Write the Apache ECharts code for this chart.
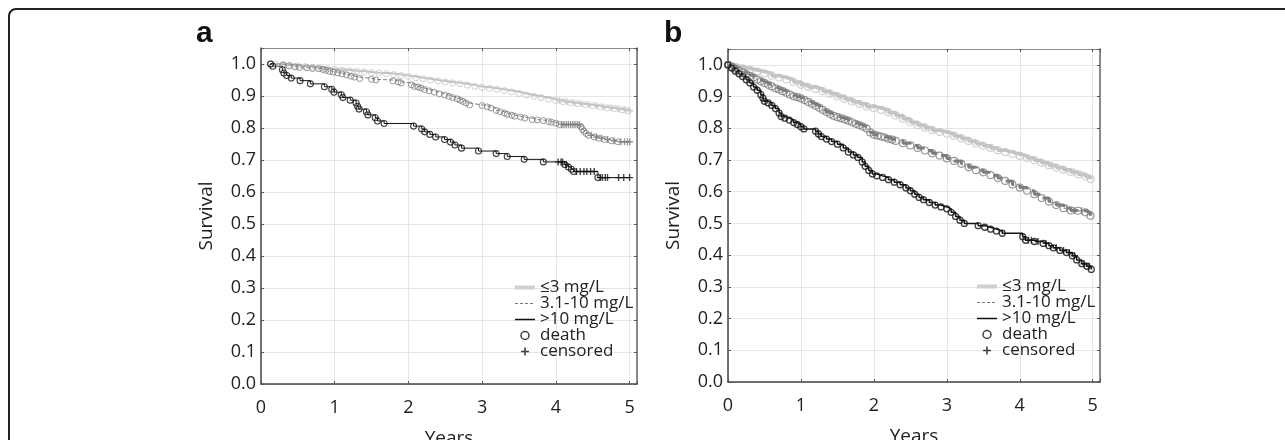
<!DOCTYPE html>
<html><head><meta charset="utf-8">
<script src="https://cdn.jsdelivr.net/npm/echarts@6/dist/echarts.min.js"></script>
<style>html,body{margin:0;padding:0;background:#fff}#c{width:1285px;height:440px}</style>
</head><body><div id="c"></div>
<script>
// ---------- data: panel a ----------
const groupNames = ['≤3 mg/L', '3.1-10 mg/L', '>10 mg/L'];
const markerNames = ['death', 'censored'];
const xTicks = [0, 1, 2, 3, 4, 5];
const yTicks = [0.0, 0.1, 0.2, 0.3, 0.4, 0.5, 0.6, 0.7, 0.8, 0.9, 1.0];

const aLowDeath = [[0.13,1.0],[0.20,0.999],[0.30,0.998],[0.40,0.996],[0.50,0.994],[0.60,0.992],[0.70,0.990],[0.80,0.988],[0.90,0.985],[1.00,0.983],[1.10,0.981],[1.20,0.979],[1.30,0.977],[1.40,0.975],[1.50,0.973],[1.60,0.972],[1.70,0.970],[1.80,0.967],[1.90,0.964],[2.00,0.961],[2.10,0.957],[2.20,0.954],[2.30,0.950],[2.40,0.947],[2.50,0.944],[2.60,0.941],[2.70,0.938],[2.80,0.934],[2.90,0.930],[3.00,0.927],[3.10,0.924],[3.20,0.921],[3.30,0.917],[3.40,0.913],[3.50,0.908],[3.60,0.903],[3.70,0.899],[3.80,0.895],[3.90,0.890],[4.00,0.886],[4.10,0.882],[4.20,0.879],[4.30,0.876],[4.40,0.873],[4.50,0.870],[4.60,0.866],[4.70,0.863],[4.80,0.860],[4.90,0.857],[4.98,0.854]];
const aLowCens = [[4.05,0.886],[4.15,0.882],[4.25,0.879],[4.35,0.876],[4.45,0.873],[4.55,0.870],[4.65,0.866],[4.75,0.863],[4.85,0.860],[4.94,0.857],[5.00,0.854]];

const aMidDeath = [[0.13,1.0],[0.30,0.997],[0.38,0.994],[0.46,0.991],[0.52,0.989],[0.62,0.988],[0.70,0.986],[0.78,0.985],[0.84,0.983],[0.88,0.980],[0.93,0.977],[0.98,0.975],[1.04,0.972],[1.10,0.969],[1.16,0.966],[1.22,0.962],[1.27,0.959],[1.34,0.955],[1.50,0.952],[1.56,0.950],[1.79,0.947],[1.86,0.944],[1.90,0.941],[2.04,0.935],[2.08,0.930],[2.13,0.928],[2.17,0.925],[2.22,0.920],[2.28,0.916],[2.35,0.912],[2.42,0.907],[2.49,0.903],[2.55,0.899],[2.60,0.895],[2.66,0.891],[2.70,0.887],[2.74,0.883],[2.78,0.878],[2.83,0.872],[3.00,0.870],[3.07,0.866],[3.12,0.862],[3.19,0.855],[3.24,0.851],[3.30,0.847],[3.34,0.843],[3.40,0.840],[3.44,0.837],[3.52,0.834],[3.58,0.831],[3.68,0.826],[3.75,0.825],[3.83,0.823],[3.90,0.820],[3.94,0.818],[4.00,0.815],[4.05,0.811],[4.34,0.804],[4.36,0.796],[4.38,0.790],[4.41,0.783],[4.44,0.777],[4.52,0.772],[4.58,0.768],[4.66,0.764],[4.75,0.760],[4.84,0.757]];
const aMidCens = [[4.08,0.811],[4.11,0.811],[4.14,0.811],[4.17,0.811],[4.20,0.811],[4.23,0.811],[4.26,0.811],[4.29,0.811],[4.32,0.811],[4.48,0.777],[4.55,0.772],[4.62,0.768],[4.70,0.764],[4.79,0.760],[4.88,0.757],[4.93,0.757],[4.97,0.757],[5.00,0.757]];

const aHighDeath = [[0.13,1.0],[0.16,0.993],[0.29,0.982],[0.31,0.972],[0.35,0.964],[0.41,0.956],[0.53,0.948],[0.67,0.938],[0.86,0.929],[0.96,0.921],[0.99,0.912],[1.09,0.904],[1.11,0.895],[1.21,0.887],[1.29,0.878],[1.31,0.868],[1.33,0.859],[1.43,0.851],[1.45,0.841],[1.55,0.832],[1.58,0.822],[1.67,0.814],[2.07,0.806],[2.18,0.797],[2.22,0.788],[2.29,0.780],[2.37,0.772],[2.49,0.764],[2.57,0.756],[2.63,0.747],[2.72,0.737],[2.95,0.728],[3.19,0.720],[3.34,0.711],[3.57,0.702],[3.83,0.694],[4.12,0.686],[4.17,0.678],[4.21,0.671],[4.24,0.664],[4.57,0.645]];
const aHighCens = [[4.03,0.694],[4.07,0.694],[4.09,0.694],[4.14,0.686],[4.28,0.664],[4.33,0.664],[4.38,0.664],[4.42,0.664],[4.47,0.664],[4.52,0.664],[4.60,0.645],[4.63,0.645],[4.67,0.645],[4.70,0.645],[4.85,0.645],[4.92,0.645],[5.00,0.645]];

// ---------- data: panel b ----------
const bLowDeath = [[0,1.0],[0.05,0.997],[0.10,0.994],[0.20,0.989],[0.30,0.984],[0.40,0.979],[0.50,0.973],[0.60,0.966],[0.70,0.960],[0.80,0.954],[0.90,0.946],[1.00,0.937],[1.10,0.930],[1.20,0.924],[1.30,0.917],[1.40,0.909],[1.50,0.901],[1.60,0.892],[1.70,0.884],[1.80,0.877],[1.90,0.869],[2.00,0.864],[2.10,0.858],[2.20,0.850],[2.30,0.840],[2.40,0.830],[2.50,0.819],[2.60,0.810],[2.70,0.802],[2.80,0.794],[2.90,0.788],[3.00,0.783],[3.10,0.776],[3.20,0.768],[3.30,0.760],[3.40,0.752],[3.50,0.745],[3.60,0.738],[3.70,0.731],[3.80,0.725],[3.90,0.719],[4.00,0.713],[4.10,0.706],[4.20,0.699],[4.30,0.691],[4.40,0.683],[4.50,0.676],[4.60,0.669],[4.70,0.662],[4.80,0.655],[4.90,0.648],[4.97,0.640]];
const bLowCens = [[4.45,0.683],[4.75,0.662],[4.85,0.655]];

const bMidDeath = [[0,1.0],[0.05,0.994],[0.10,0.988],[0.15,0.982],[0.20,0.976],[0.25,0.971],[0.30,0.965],[0.35,0.960],[0.40,0.954],[0.45,0.948],[0.50,0.943],[0.55,0.937],[0.60,0.932],[0.65,0.926],[0.70,0.922],[0.75,0.917],[0.80,0.912],[0.85,0.906],[0.90,0.901],[0.95,0.898],[1.00,0.894],[1.05,0.889],[1.10,0.883],[1.15,0.877],[1.20,0.871],[1.25,0.865],[1.30,0.858],[1.35,0.851],[1.40,0.845],[1.45,0.839],[1.50,0.835],[1.55,0.832],[1.60,0.828],[1.65,0.824],[1.70,0.819],[1.75,0.814],[1.80,0.810],[1.85,0.805],[1.90,0.799],[1.95,0.787],[2.00,0.780],[2.05,0.777],[2.10,0.774],[2.15,0.771],[2.20,0.767],[2.25,0.764],[2.30,0.760],[2.40,0.753],[2.50,0.746],[2.60,0.738],[2.70,0.730],[2.80,0.721],[2.90,0.714],[3.00,0.705],[3.10,0.697],[3.20,0.688],[3.30,0.677],[3.40,0.668],[3.50,0.661],[3.60,0.652],[3.70,0.643],[3.80,0.634],[3.90,0.623],[4.00,0.613],[4.10,0.603],[4.20,0.592],[4.30,0.580],[4.40,0.569],[4.50,0.558],[4.60,0.548],[4.70,0.541],[4.80,0.540],[4.90,0.535],[4.97,0.524]];
const bMidCens = [[4.65,0.548],[4.75,0.541],[4.85,0.540]];

const bHighDeath = [[0,1.0],[0.05,0.990],[0.10,0.980],[0.15,0.972],[0.20,0.963],[0.25,0.953],[0.30,0.943],[0.35,0.930],[0.40,0.920],[0.45,0.906],[0.48,0.895],[0.50,0.885],[0.55,0.880],[0.60,0.872],[0.65,0.862],[0.70,0.848],[0.73,0.837],[0.78,0.832],[0.84,0.826],[0.90,0.818],[0.95,0.812],[1.00,0.805],[1.04,0.798],[1.20,0.791],[1.24,0.782],[1.28,0.774],[1.35,0.766],[1.42,0.758],[1.50,0.750],[1.58,0.738],[1.65,0.725],[1.72,0.716],[1.78,0.708],[1.84,0.694],[1.88,0.680],[1.93,0.667],[1.98,0.656],[2.04,0.650],[2.12,0.645],[2.20,0.638],[2.28,0.630],[2.36,0.622],[2.44,0.612],[2.50,0.603],[2.56,0.592],[2.62,0.582],[2.68,0.575],[2.76,0.566],[2.84,0.558],[2.92,0.552],[3.00,0.546],[3.06,0.535],[3.12,0.522],[3.18,0.510],[3.24,0.500],[3.43,0.493],[3.52,0.488],[3.60,0.482],[3.68,0.476],[3.76,0.469],[4.04,0.458],[4.08,0.447],[4.20,0.443],[4.32,0.437],[4.40,0.430],[4.46,0.423],[4.55,0.415],[4.64,0.408],[4.72,0.398],[4.78,0.385],[4.85,0.373],[4.92,0.365],[4.98,0.355]];
const bHighCens = [[4.12,0.447],[4.16,0.447],[4.25,0.443],[4.36,0.437],[4.50,0.423],[4.60,0.415],[4.68,0.408],[4.75,0.398],[4.88,0.373],[4.95,0.365]];

// ---------- styling ----------
const COL = ['#c4c4c4', '#7d7d7d', '#141414'];
const LTYPE = ['solid', 'dashed', 'solid'];
const PLUS = 'path://M4,0H6V4H10V6H6V10H4V6H0V4H4Z';
const FONT = 'Open Sans';

function groupSeries(gi, k, deaths, cens, lw, sym, bw) {
  const curve = deaths.concat(cens).sort((p, q) => p[0] - q[0]);
  return [
    { type: 'line', name: groupNames[k], xAxisIndex: gi, yAxisIndex: gi, data: curve, step: 'end',
      symbol: 'none', showSymbol: false, silent: true, animation: false, z: 2 + k,
      lineStyle: { color: COL[k], type: LTYPE[k], width: lw }, itemStyle: { color: COL[k] } },
    { type: 'scatter', name: 'death', xAxisIndex: gi, yAxisIndex: gi, data: deaths, symbol: 'circle',
      symbolSize: sym, silent: true, animation: false, z: 5 + k,
      itemStyle: { color: 'rgba(255,255,255,0)', borderColor: COL[k], borderWidth: bw } },
    { type: 'scatter', name: 'censored', xAxisIndex: gi, yAxisIndex: gi, data: cens, symbol: PLUS,
      symbolSize: 7, silent: true, animation: false, z: 5 + k, itemStyle: { color: COL[k] } }
  ];
}

const series = [].concat(
  groupSeries(0, 0, aLowDeath, aLowCens, 2, 6, 1),
  groupSeries(0, 1, aMidDeath, aMidCens, 1, 6, 1),
  groupSeries(0, 2, aHighDeath, aHighCens, 1, 6, 1.1),
  groupSeries(1, 0, bLowDeath, bLowCens, 3.5, 7, 1.2),
  groupSeries(1, 1, bMidDeath, bMidCens, 3, 7, 1.2),
  groupSeries(1, 2, bHighDeath, bHighCens, 1.5, 6, 1.3)
);

const hidden = { color: 'rgba(0,0,0,0)', borderColor: 'rgba(0,0,0,0)', borderWidth: 0 };
function legendFor(left, top) {
  return {
    left: left, top: top, orient: 'vertical', itemWidth: 20, itemHeight: 8, itemGap: -1, padding: 0,
    selectedMode: false,
    textStyle: { fontSize: 17, fontFamily: FONT, color: '#222', lineHeight: 14 },
    data: [
      { name: groupNames[0], lineStyle: { width: 4, color: '#d0d0d0', type: 'solid' }, itemStyle: hidden },
      { name: groupNames[1], lineStyle: { width: 1, type: [3, 2], color: '#777' }, itemStyle: hidden },
      { name: groupNames[2], lineStyle: { width: 1.5, color: '#111', type: 'solid' }, itemStyle: hidden },
      { name: markerNames[0], icon: 'circle', itemStyle: { color: 'rgba(0,0,0,0)', borderColor: '#111', borderWidth: 1.5 } },
      { name: markerNames[1], icon: PLUS, itemStyle: { color: '#111' } }
    ]
  };
}

const lblFmtX = v => (xTicks.indexOf(Math.round(v * 1000) / 1000) >= 0 ? String(v) : '');
const lblFmtY = v => {
  const r = Math.round(v * 1000) / 1000;
  return yTicks.some(t => Math.abs(t - r) < 1e-6) ? r.toFixed(1) : '';
};

function xAx(gi, top) {
  return {
    type: 'value', gridIndex: gi, min: 0, max: 5.1, interval: 1, position: top ? 'top' : 'bottom',
    axisLine: { show: true, onZero: false, lineStyle: { color: top ? '#8a8a8a' : '#444', width: top ? 1 : 1.5 } },
    axisTick: { show: true, inside: true, length: 3, lineStyle: { color: '#555' } },
    splitLine: { show: !top, lineStyle: { color: '#e6e6e6', width: 1 } },
    axisLabel: { show: !top, fontSize: 18, fontFamily: FONT, color: '#222', margin: 15, formatter: lblFmtX },
    name: top ? '' : 'Years', nameLocation: 'middle', nameGap: 45,
    nameTextStyle: { fontSize: 19, fontFamily: FONT, color: '#222' }
  };
}
function yAx(gi, right) {
  return {
    type: 'value', gridIndex: gi, min: 0, max: 1.05, interval: 0.1, position: right ? 'right' : 'left',
    axisLine: { show: true, onZero: false, lineStyle: { color: right ? '#666' : '#444', width: 1.5 } },
    axisTick: { show: true, inside: true, length: 3, lineStyle: { color: '#555' } },
    splitLine: { show: !right, lineStyle: { color: '#e6e6e6', width: 1 } },
    axisLabel: { show: !right, fontSize: 18, fontFamily: FONT, color: '#222', margin: 5, formatter: lblFmtY },
    name: right ? '' : 'Survival', nameLocation: 'middle', nameGap: 45,
    nameTextStyle: { fontSize: 19, fontFamily: FONT, color: '#222' }
  };
}

const option = {
  animation: false,
  textStyle: { fontFamily: FONT },
  title: [
    { text: 'a', left: 196, top: 19, padding: 0, textStyle: { fontSize: 30, fontWeight: 'bold', fontFamily: 'Liberation Sans', color: '#111' } },
    { text: 'b', left: 664, top: 19, padding: 0, textStyle: { fontSize: 30, fontWeight: 'bold', fontFamily: 'Liberation Sans', color: '#111' } }
  ],
  grid: [
    { left: 261, top: 48, width: 376, height: 336, show: false, containLabel: false, outerBoundsMode: 'none' },
    { left: 728, top: 49, width: 372, height: 333, show: false, containLabel: false, outerBoundsMode: 'none' }
  ],
  xAxis: [xAx(0, false), xAx(1, false), xAx(0, true), xAx(1, true)],
  yAxis: [yAx(0, false), yAx(1, false), yAx(0, true), yAx(1, true)],
  legend: [legendFor(513, 279), legendFor(975, 278)],
  graphic: [
    { type: 'rect', silent: true, shape: { x: 9, y: 9, width: 1320, height: 470, r: 7 },
      style: { fill: 'none', stroke: '#222', lineWidth: 2 } }
  ],
  series: series
};

const chart = echarts.init(document.getElementById('c'), null, { renderer: 'canvas' });
chart.setOption(option);
</script></body></html>
